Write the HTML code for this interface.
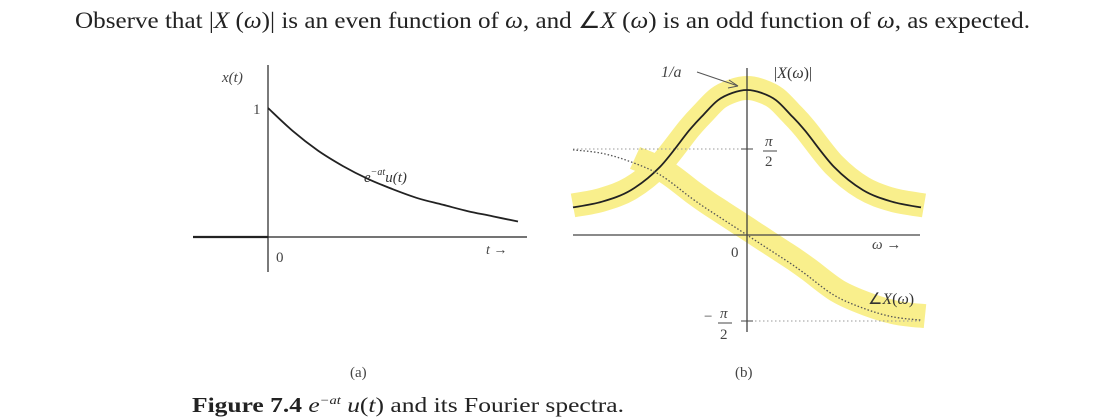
<!DOCTYPE html>
<html><head><meta charset="utf-8"><style>
body{margin:0;background:#fff;}
svg{display:block;font-family:"Liberation Serif",serif;}
</style></head><body>
<svg width="1102" height="420" viewBox="0 0 1102 420">
<text x="75" y="28" font-size="23" fill="#222" textLength="955" lengthAdjust="spacingAndGlyphs">Observe that |<tspan font-style="italic">X</tspan> (<tspan font-style="italic">ω</tspan>)| is an even function of <tspan font-style="italic">ω</tspan>, and ∠<tspan font-style="italic">X</tspan> (<tspan font-style="italic">ω</tspan>) is an odd function of <tspan font-style="italic">ω</tspan>, as expected.</text>

<g id="hl"></g>
<g id="ga">
 <line x1="193" y1="237" x2="527" y2="237" stroke="#222" stroke-width="1.3"/>
 <line x1="193" y1="237" x2="268" y2="237" stroke="#222" stroke-width="2.2"/>
 <line x1="268" y1="65" x2="268" y2="272" stroke="#222" stroke-width="1.2"/>
 <text x="222" y="82" font-size="15" font-style="italic" fill="#444">x(t)</text>
 <text x="253" y="114" font-size="15" fill="#444">1</text>
 <text x="276" y="262" font-size="15" fill="#444">0</text>
 <text x="486" y="254" font-size="14" font-style="italic" fill="#444">t →</text>
 <text x="364" y="182" font-size="15" font-style="italic" fill="#333">e<tspan font-size="10" dy="-7">−at</tspan><tspan dy="7">u(t)</tspan></text>
</g>
<g id="gb">
 <line x1="573" y1="235" x2="920" y2="235" stroke="#444" stroke-width="1.2"/>
 <line x1="747" y1="68" x2="747" y2="332" stroke="#333" stroke-width="1.2"/>
 <line x1="573" y1="149" x2="747" y2="149" stroke="#999" stroke-dasharray="1.5 2.5"/>
 <line x1="747" y1="321" x2="920" y2="321" stroke="#999" stroke-dasharray="1.5 2.5"/>
 <line x1="741" y1="149" x2="753" y2="149" stroke="#444"/>
 <line x1="741" y1="321" x2="753" y2="321" stroke="#444"/>
 <text x="661" y="77" font-size="16" font-style="italic" fill="#444">1/a</text>
 <line x1="697" y1="72" x2="738" y2="86" stroke="#555"/>
 <path d="M738 86 L729 80 M738 86 L728 88" stroke="#555" fill="none"/>
 <text x="774" y="78" font-size="16" fill="#333">|<tspan font-style="italic">X</tspan>(<tspan font-style="italic">ω</tspan>)|</text>
 <text x="765" y="146" font-size="15" font-style="italic" fill="#444">π</text>
 <line x1="763" y1="151" x2="777" y2="151" stroke="#444"/>
 <text x="765" y="166" font-size="15" fill="#444">2</text>
 <text x="704" y="321" font-size="15" fill="#444">−</text>
 <text x="720" y="318" font-size="15" font-style="italic" fill="#444">π</text>
 <line x1="718" y1="323" x2="732" y2="323" stroke="#444"/>
 <text x="720" y="339" font-size="15" fill="#444">2</text>
 <text x="731" y="257" font-size="15" fill="#444">0</text>
 <text x="872" y="249" font-size="15" font-style="italic" fill="#444">ω →</text>
 <text x="868" y="304" font-size="16" fill="#333">∠<tspan font-style="italic">X</tspan>(<tspan font-style="italic">ω</tspan>)</text>
</g>
<text x="350" y="377" font-size="15" fill="#444">(a)</text>
<text x="735" y="377" font-size="15" fill="#444">(b)</text>
<text x="192" y="412" font-size="21" fill="#222" textLength="432" lengthAdjust="spacingAndGlyphs"><tspan font-weight="bold">Figure 7.4</tspan>  <tspan font-style="italic">e</tspan><tspan font-size="12" dy="-8" font-style="italic">−at</tspan><tspan dy="8" font-style="italic"> u</tspan>(<tspan font-style="italic">t</tspan>) and its Fourier spectra.</text>
</svg>
<script>
// chart (a): x(t) = e^{-at}u(t)
const tVals=[0,1,2,3,4,5,6,7,8,9,10];
const xVals=[1,0.82,0.67,0.55,0.45,0.37,0.30,0.25,0.20,0.16,0.12];
// chart (b)
const wVals=[-6,-5,-4,-3,-2,-1.5,-1,-0.5,0,0.5,1,1.5,2,3,4,5,6];
const magVals=[0.19,0.23,0.31,0.47,0.72,0.83,0.93,0.98,1,0.98,0.93,0.83,0.72,0.47,0.31,0.23,0.19];
const phaseVals=[0.99,0.95,0.85,0.70,0.45,0.33,0.22,0.11,0,-0.11,-0.22,-0.33,-0.45,-0.70,-0.85,-0.95,-0.99];
const NS='http://www.w3.org/2000/svg';
const ax=t=>268+t*25, ay=v=>237-v*129;
const bx=w=>747+w*29, by=v=>235-v*145, py=v=>235-v*86;
function pathD(xs,ys,fx,fy){
 const P=xs.map((x,i)=>[fx(x),fy(ys[i])]);
 let d='M'+P[0][0].toFixed(1)+' '+P[0][1].toFixed(1);
 for(let i=0;i<P.length-1;i++){
  const p0=P[i-1]||P[i],p1=P[i],p2=P[i+1],p3=P[i+2]||P[i+1];
  const c1=[p1[0]+(p2[0]-p0[0])/6,p1[1]+(p2[1]-p0[1])/6];
  const c2=[p2[0]-(p3[0]-p1[0])/6,p2[1]-(p3[1]-p1[1])/6];
  d+=' C'+c1.map(v=>v.toFixed(1)).join(' ')+' '+c2.map(v=>v.toFixed(1)).join(' ')+' '+p2[0].toFixed(1)+' '+p2[1].toFixed(1);
 }
 return d;}
function mk(parent,d,stroke,w,dash,name){
 const p=document.createElementNS(NS,'path');
 p.setAttribute('d',d);p.setAttribute('fill','none');p.setAttribute('stroke',stroke);
 p.setAttribute('stroke-width',w);p.setAttribute('stroke-linejoin','round');p.setAttribute('stroke-linecap','butt');
 if(dash)p.setAttribute('stroke-dasharray',dash);
 
 
 parent.appendChild(p);return p;}
const hl=document.getElementById('hl');
mk(hl,pathD(wVals,magVals,w=>bx(w)+(w>5?3:0),v=>by(v)-2),'#f9ef8c',24,null,'magnitude-highlight');
const pw=wVals.filter(w=>w>=-4), pv=phaseVals.slice(wVals.length-pw.length);
mk(hl,pathD(pw,pv,w=>bx(w)+4,v=>py(v)-4),'#f9ef8c',24,null,'phase-highlight');
const ga=document.getElementById('ga'), gb=document.getElementById('gb');
mk(ga,pathD(tVals,xVals,ax,ay),'#222',1.8,null,'exp-decay-curve');
mk(gb,pathD(wVals,magVals,bx,by),'#222',1.8,null,'magnitude-curve');
mk(gb,pathD(wVals,phaseVals,bx,py),'#555',1.3,'1.5 2','phase-curve');
</script>
</body></html>
